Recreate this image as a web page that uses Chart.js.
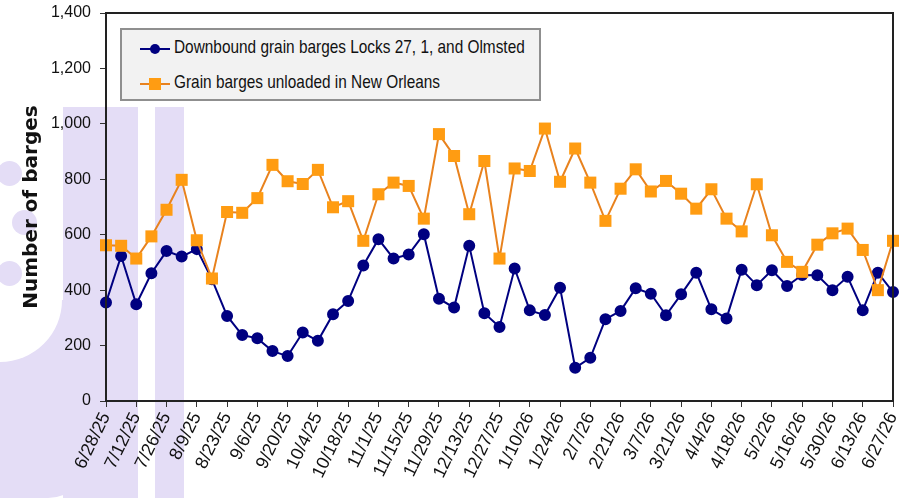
<!DOCTYPE html>
<html>
<head>
<meta charset="utf-8">
<script src="https://cdn.jsdelivr.net/npm/chart.js@4/dist/chart.umd.min.js"></script>
<style>
  html, body { margin: 0; padding: 0; background: #fff; }
  #wrap { position: relative; width: 909px; height: 498px; overflow: hidden; }
  .wm { position: absolute; background: #e4ddf6; }
  .wh { position: absolute; background: #fff; border-radius: 50%; }
  #chart { position: absolute; left: 0; top: 0; }
  #legend {
    position: absolute; left: 120px; top: 28px; width: 417px; height: 69px;
    background: #f2f2f2; border: 2px solid #8f8f8f;
    font-family: "Liberation Sans", sans-serif; font-size: 19px; color: #111;
  }
  .row { position: absolute; left: 18px; height: 20px; }
  .row .ln { position: absolute; left: 0; top: 9px; width: 30px; height: 2px; }
  .row .mk { position: absolute; }
  .row span { position: absolute; left: 34px; top: -3px; white-space: nowrap;
    transform: scaleX(0.81); transform-origin: 0 50%; }
</style>
</head>
<body>
<div id="wrap">
  <div class="wm" style="left:63px;top:107px;width:75px;height:391px;"></div>
  <div class="wm" style="left:155px;top:107px;width:29px;height:391px;"></div>
  <div class="wm" style="left:0;top:300px;width:88px;height:198px;border-bottom-right-radius:40px;"></div>
  <div class="wh" style="left:-62px;top:238px;width:124px;height:124px;"></div>
  <div class="wm" style="left:-3px;top:161px;width:25px;height:25px;border-radius:50%;"></div>
  <div class="wm" style="left:12px;top:210px;width:25px;height:25px;border-radius:50%;"></div>
  <div class="wm" style="left:-3px;top:261px;width:25px;height:25px;border-radius:50%;"></div>
  <canvas id="chart" width="909" height="498"></canvas>
  <div id="legend"></div>
</div>
<script>
// weekly dates
var weeks = ["6/28/25","7/5/25","7/12/25","7/19/25","7/26/25","8/2/25","8/9/25","8/16/25","8/23/25","8/30/25",
  "9/6/25","9/13/25","9/20/25","9/27/25","10/4/25","10/11/25","10/18/25","10/25/25","11/1/25","11/8/25",
  "11/15/25","11/22/25","11/29/25","12/6/25","12/13/25","12/20/25","12/27/25","1/3/26","1/10/26","1/17/26",
  "1/24/26","1/31/26","2/7/26","2/14/26","2/21/26","2/28/26","3/7/26","3/14/26","3/21/26","3/28/26",
  "4/4/26","4/11/26","4/18/26","4/25/26","5/2/26","5/9/26","5/16/26","5/23/26","5/30/26","6/6/26",
  "6/13/26","6/20/26","6/27/26"];

var locksLabel = "Downbound grain barges Locks 27, 1, and Olmsted";
var locks = [355,523,349,461,541,521,548,439,307,238,226,180,162,247,217,313,361,489,584,514,
  529,602,369,337,560,317,267,478,327,310,409,120,156,295,325,407,387,309,385,463,
  331,298,474,418,472,415,455,454,400,448,327,463,393];

var nolaLabel = "Grain barges unloaded in New Orleans";
var nola = [562,560,514,594,690,798,580,442,682,679,732,852,793,783,834,699,721,578,746,788,
  776,658,963,884,674,866,514,839,830,983,791,911,788,650,766,836,756,794,748,694,
  764,658,612,782,598,502,466,564,605,622,545,400,578];

var navy = "#000080";
var orangeLine = "#e8821e";
var orangeMark = "#ff9c12";
var txtFont = "'Liberation Sans', sans-serif";

// frame round the plot
var framePlugin = {
  id: "frame",
  afterDatasetsDraw: function(chart) {
    var a = chart.chartArea, c = chart.ctx;
    c.save();
    c.strokeStyle = "#222";
    c.lineWidth = 2;
    c.strokeRect(a.left, a.top, a.right - a.left, a.bottom - a.top);
    c.restore();
  }
};

var ctx = document.getElementById("chart").getContext("2d");
var chart = new Chart(ctx, {
  type: "line",
  data: {
    labels: weeks,
    datasets: [
      {
        label: locksLabel, data: locks, order: 1,
        borderColor: navy, backgroundColor: navy, borderWidth: 2,
        pointStyle: "circle", pointRadius: 5, pointBackgroundColor: navy, pointBorderColor: navy,
        tension: 0, clip: false
      },
      {
        label: nolaLabel, data: nola, order: 0,
        borderColor: orangeLine, backgroundColor: orangeMark, borderWidth: 2,
        pointStyle: "rect", pointRadius: 8.5, pointBackgroundColor: orangeMark, pointBorderColor: orangeMark,
        pointBorderWidth: 0, tension: 0, clip: false
      }
    ]
  },
  options: {
    responsive: false,
    animation: false,
    layout: { padding: { top: 13, right: 16, left: 0, bottom: 0 } },
    plugins: { legend: { display: false }, tooltip: { enabled: false } },
    scales: {
      x: {
        offset: false,
        grid: { drawOnChartArea: false, drawTicks: true, tickLength: 6, color: "#333", lineWidth: 1 },
        border: { color: "#222", width: 2 },
        ticks: {
          autoSkip: false, maxRotation: 64, minRotation: 64, padding: 2,
          color: "#111", font: { family: txtFont, size: 18 },
          callback: function(v, i) { return i % 2 === 0 ? weeks[i] : null; }
        },
        afterFit: function(s) { s.height = 97; s.paddingLeft = 0; s.paddingRight = 0; }
      },
      y: {
        min: 0, max: 1400,
        grid: { drawOnChartArea: false, drawTicks: true, tickLength: 6, color: "#333" },
        border: { color: "#222", width: 2 },
        ticks: { stepSize: 200, padding: 9, color: "#111", font: { family: txtFont, size: 16 } },
        title: {
          display: true, text: "Number of barges", color: "#111",
          font: { family: "'DejaVu Sans', sans-serif", size: 20, weight: "bold" },
          padding: { top: 20, bottom: 0 }
        },
        afterFit: function(s) { s.width = 106; s.paddingTop = 0; s.paddingBottom = 0; }
      }
    }
  },
  plugins: [framePlugin]
});

// legend box inside the plot
var lg = document.getElementById("legend");
chart.data.datasets.forEach(function(ds, k) {
  var row = document.createElement("div");
  row.className = "row";
  row.style.top = (k === 0 ? 9 : 44) + "px";
  var ln = document.createElement("div");
  ln.className = "ln"; ln.style.background = ds.borderColor;
  var mk = document.createElement("div");
  mk.className = "mk";
  if (ds.pointStyle === "circle") {
    mk.style.cssText = "left:10px;top:5px;width:10px;height:10px;border-radius:50%;background:" + ds.pointBackgroundColor;
  } else {
    mk.style.cssText = "left:9px;top:4px;width:12px;height:12px;background:" + ds.pointBackgroundColor;
  }
  var sp = document.createElement("span");
  sp.textContent = ds.label;
  row.appendChild(ln); row.appendChild(mk); row.appendChild(sp);
  lg.appendChild(row);
});
</script>
</body>
</html>
